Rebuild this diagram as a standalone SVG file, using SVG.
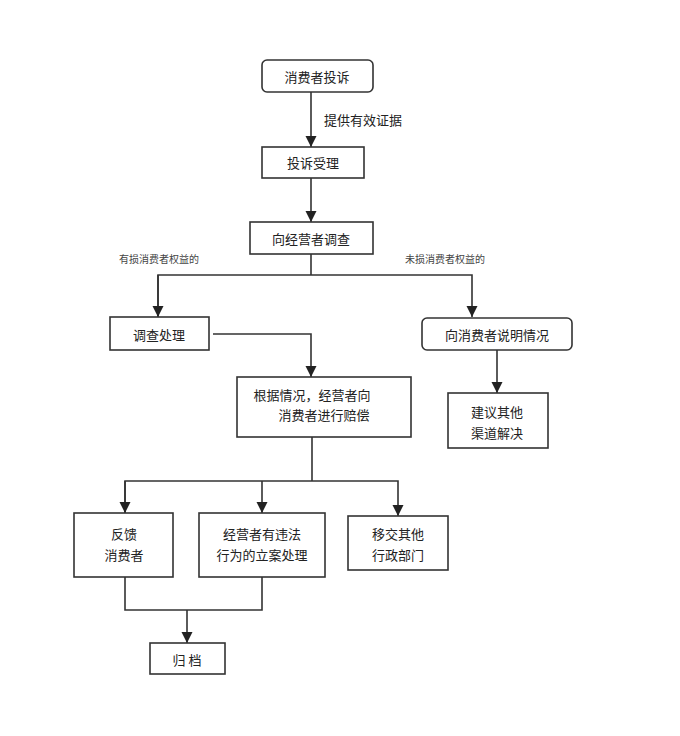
<svg xmlns="http://www.w3.org/2000/svg" width="680" height="736" viewBox="0 0 680 736">
<defs>
<marker id="ah" viewBox="0 0 10 10" refX="10" refY="5" markerWidth="7" markerHeight="7" orient="auto"><path d="M0,0 L10,5 L0,10 z" fill="#222"/></marker>
<style>
rect{fill:#fff;stroke:#333;stroke-width:1.6}
text{font-family:"Noto Sans CJK SC",sans-serif;font-size:13px;fill:#222;text-anchor:middle;dominant-baseline:central}
.l{font-size:10px;fill:#444}
.c{fill:none;stroke:#333;stroke-width:1.6}
</style>
</defs>
<rect width="680" height="736" style="fill:#fff;stroke:none"/>
<g id="connectors">
<path class="c" d="M311,92 V147" marker-end="url(#ah)"/>
<path class="c" d="M311,178 V222" marker-end="url(#ah)"/>
<path class="c" d="M311,254 V275"/>
<path class="c" d="M158,317 V275 H472 V317" marker-end="url(#ah)"/>
<path class="c" d="M158,275 V317" marker-end="url(#ah)"/>
<path class="c" d="M213,334 H311 V377" marker-end="url(#ah)"/>
<path class="c" d="M497,350 V393" marker-end="url(#ah)"/>
<path class="c" d="M312,437 V481"/>
<path class="c" d="M125,513 V481 H398 V516" marker-end="url(#ah)"/>
<path class="c" d="M125,481 V513" marker-end="url(#ah)"/>
<path class="c" d="M262,481 V513" marker-end="url(#ah)"/>
<path class="c" d="M125,577 V610 H262 V577"/>
<path class="c" d="M187,610 V643" marker-end="url(#ah)"/>
<text x="363" y="119">提供有效证据</text>
<text class="l" x="159" y="258">有损消费者权益的</text>
<text class="l" x="445" y="258">未损消费者权益的</text>
</g>
<g id="n1"><rect x="262" y="60" width="111" height="32" rx="5"/><text x="317" y="76">消费者投诉</text></g>
<g id="n2"><rect x="262" y="147" width="102" height="31"/><text x="313" y="162">投诉受理</text></g>
<g id="n3"><rect x="250" y="222" width="123" height="32"/><text x="311" y="238">向经营者调查</text></g>
<g id="n4"><rect x="110" y="317" width="99" height="33"/><text x="159" y="334">调查处理</text></g>
<g id="n5"><rect x="422" y="318" width="150" height="32" rx="5"/><text x="497" y="334">向消费者说明情况</text></g>
<g id="n6"><rect x="237" y="377" width="174" height="60"/><text x="312" y="394">根据情况，经营者向</text><text x="324" y="414">消费者进行赔偿</text></g>
<g id="n7"><rect x="448" y="393" width="100" height="55"/><text x="497" y="411">建议其他</text><text x="497" y="432">渠道解决</text></g>
<g id="n8"><rect x="74" y="513" width="99" height="64"/><text x="124" y="533">反馈</text><text x="124" y="554">消费者</text></g>
<g id="n9"><rect x="199" y="513" width="126" height="64"/><text x="262" y="533">经营者有违法</text><text x="262" y="554">行为的立案处理</text></g>
<g id="n10"><rect x="348" y="516" width="100" height="54"/><text x="398" y="533">移交其他</text><text x="398" y="554">行政部门</text></g>
<g id="n11"><rect x="150" y="643" width="75" height="31"/><text x="187" y="659">归 档</text></g>
</svg>
